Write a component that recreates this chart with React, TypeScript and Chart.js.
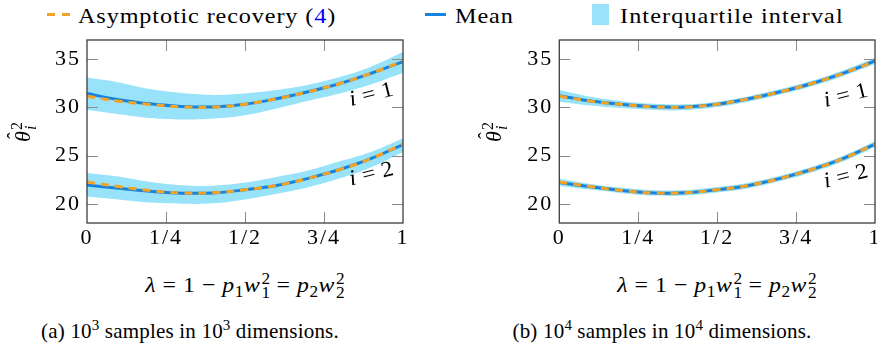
import React, { useEffect, useRef } from "react";
import { Chart, registerables } from "chart.js";

Chart.register(...registerables);

// ---------- data ----------
const LAMBDA = [0, 0.1, 0.2, 0.3, 0.4, 0.5, 0.6, 0.7, 0.8, 0.9, 1];
const X_TICKS = [0, 0.25, 0.5, 0.75, 1];
const X_TICK_LABELS = ["0", "1/4", "1/2", "3/4", "1"];
const Y_TICKS = [20, 25, 30, 35];
const Y_MIN = 18;
const Y_MAX = 37;

// asymptotic recovery (4)
const ASYM_1 = [31.15, 30.65, 30.3, 30.06, 30.03, 30.33, 30.9, 31.62, 32.48, 33.55, 34.8];
const ASYM_2 = [22.26, 21.78, 21.37, 21.12, 21.14, 21.45, 21.9, 22.63, 23.55, 24.7, 26.2];

// panel (a): 10^3 samples in 10^3 dimensions
const A_MEAN_1 = [31.45, 30.8, 30.37, 30.1, 30.05, 30.33, 30.9, 31.62, 32.48, 33.55, 34.76];
const A_Q3_1 = [33.1, 32.6, 31.9, 31.5, 31.3, 31.45, 31.8, 32.35, 33.15, 34.25, 35.75];
const A_Q1_1 = [29.72, 29.3, 28.9, 28.75, 28.85, 29.2, 29.9, 30.7, 31.45, 32.4, 33.6];
const A_MEAN_2 = [21.95, 21.6, 21.3, 21.1, 21.12, 21.45, 21.9, 22.63, 23.55, 24.7, 26.15];
const A_Q3_2 = [23.2, 22.82, 22.25, 21.92, 21.88, 22.2, 22.78, 23.45, 24.4, 25.4, 26.8];
const A_Q1_2 = [20.76, 20.45, 20.12, 20.0, 20.05, 20.45, 21.04, 21.72, 22.65, 23.8, 25.38];

// panel (b): 10^4 samples in 10^4 dimensions
const B_MEAN_1 = [31.22, 30.66, 30.3, 30.07, 30.04, 30.33, 30.9, 31.62, 32.48, 33.56, 34.82];
const B_Q3_1 = [31.8, 31.1, 30.65, 30.38, 30.33, 30.6, 31.17, 31.9, 32.76, 33.85, 35.12];
const B_Q1_1 = [30.6, 30.2, 29.93, 29.74, 29.72, 30.04, 30.62, 31.35, 32.2, 33.27, 34.5];
const B_MEAN_2 = [22.2, 21.76, 21.37, 21.12, 21.14, 21.45, 21.9, 22.63, 23.55, 24.7, 26.2];
const B_Q3_2 = [22.6, 22.05, 21.65, 21.4, 21.42, 21.73, 22.18, 22.9, 23.83, 24.98, 26.48];
const B_Q1_2 = [21.85, 21.47, 21.1, 20.85, 20.86, 21.17, 21.62, 22.36, 23.27, 24.42, 25.9];

// curve labels ("i = 1", "i = 2") in data coordinates
const A_CURVE_LABELS = [
  { idx: "1", x: 0.9, y: 31.3 },
  { idx: "2", x: 0.9, y: 23.05 },
];
const B_CURVE_LABELS = [
  { idx: "1", x: 0.908, y: 31.2 },
  { idx: "2", x: 0.908, y: 22.8 },
];

// ---------- styles ----------
const ORANGE = "#f5a324";
const BLUE = "#1583e0";
const BAND = "#98e3f9";
const FRAME = "#3c3c3c";
const TICK = "#8c8c8c";
const SERIF = '"Liberation Serif"';
const FS = 22;

const pts = (ys: number[]) => LAMBDA.map((x, i) => ({ x, y: ys[i] }));

const framePlugin = {
  id: "frameTicks",
  beforeDraw(chart: any) {
    chart.ctx.letterSpacing = "2px";
  },
  afterDatasetsDraw(chart: any, _args: any, opts: any) {
    const { ctx, chartArea, scales } = chart;
    const { left, right, top, bottom } = chartArea;
    const x = scales.x;
    const y = scales.y;
    const L = 11;
    ctx.save();
    ctx.letterSpacing = "0px";
    ctx.strokeStyle = TICK;
    ctx.lineWidth = 1;
    ctx.beginPath();
    for (const v of X_TICKS) {
      if (v <= 0 || v >= 1) continue;
      const px = Math.round(x.getPixelForValue(v)) + 0.5;
      ctx.moveTo(px, bottom);
      ctx.lineTo(px, bottom - L);
      ctx.moveTo(px, top);
      ctx.lineTo(px, top + L);
    }
    for (const v of Y_TICKS) {
      const py = Math.round(y.getPixelForValue(v)) + 0.5;
      ctx.moveTo(left, py);
      ctx.lineTo(left + L, py);
      ctx.moveTo(right, py);
      ctx.lineTo(right - L, py);
    }
    ctx.stroke();
    ctx.strokeStyle = FRAME;
    ctx.lineWidth = 1.3;
    ctx.strokeRect(left, top, right - left, bottom - top);

    // curve labels
    const labels = (opts && opts.labels) || [];
    for (const lb of labels) {
      const px = x.getPixelForValue(lb.x);
      const py = y.getPixelForValue(lb.y);
      ctx.save();
      ctx.translate(px, py);
      ctx.rotate((-14 * Math.PI) / 180);
      ctx.scale(1.08, 1);
      ctx.fillStyle = "#000";
      ctx.textBaseline = "middle";
      const it = `italic ${FS}px ${SERIF}`;
      const rm = `${FS}px ${SERIF}`;
      ctx.font = it;
      const wi = ctx.measureText("i").width;
      ctx.font = rm;
      const we = ctx.measureText("=").width;
      const wn = ctx.measureText(lb.idx).width;
      const gap = 6;
      const total = wi + gap + we + gap + wn;
      let cx = -total / 2;
      ctx.font = it;
      ctx.fillText("i", cx, 0);
      cx += wi + gap;
      ctx.font = rm;
      ctx.fillText("=", cx, 0);
      cx += we + gap;
      ctx.fillText(lb.idx, cx, 0);
      ctx.restore();
    }
    ctx.restore();
  },
};

type PanelProps = {
  left: number;
  width: number;
  height: number;
  yAxisWidth: number;
  rightPad: number;
  plotBottom: number;
  mean1: number[];
  q1_1: number[];
  q3_1: number[];
  mean2: number[];
  q1_2: number[];
  q3_2: number[];
  curveLabels: { idx: string; x: number; y: number }[];
};

function Panel(p: PanelProps) {
  const ref = useRef<HTMLCanvasElement | null>(null);
  useEffect(() => {
    if (!ref.current) return;
    const line = (data: number[], color: string, dash: number[] | undefined, order: number) => ({
      data: pts(data),
      borderColor: color,
      borderWidth: 3,
      borderDash: dash,
      pointRadius: 0,
      tension: 0.4,
      fill: false,
      order,
    });
    const bandTop = (data: number[]) => ({
      data: pts(data),
      borderWidth: 0,
      borderColor: "rgba(0,0,0,0)",
      pointRadius: 0,
      tension: 0.4,
      fill: false,
      order: 3,
    });
    const bandBottom = (data: number[], target: number) => ({
      data: pts(data),
      borderWidth: 0,
      borderColor: "rgba(0,0,0,0)",
      backgroundColor: BAND,
      pointRadius: 0,
      tension: 0.4,
      fill: { target },
      order: 3,
    });
    const chart = new Chart(ref.current, {
      type: "line",
      data: {
        datasets: [
          line(ASYM_1, ORANGE, [8, 6], 0),
          line(ASYM_2, ORANGE, [8, 6], 0),
          line(p.mean1, BLUE, undefined, 1),
          line(p.mean2, BLUE, undefined, 1),
          bandTop(p.q3_1),
          bandBottom(p.q1_1, 4),
          bandTop(p.q3_2),
          bandBottom(p.q1_2, 6),
        ] as any,
      },
      options: {
        animation: false,
        responsive: false,
        maintainAspectRatio: false,
        events: [],
        layout: { padding: { left: 0, top: 40, right: p.rightPad, bottom: 0 } },
        plugins: {
          legend: { display: false },
          tooltip: { enabled: false },
          frameTicks: { labels: p.curveLabels },
        } as any,
        scales: {
          x: {
            type: "linear",
            min: 0,
            max: 1,
            grid: { display: false, drawTicks: false, tickLength: 0 },
            border: { display: false },
            afterBuildTicks: (s: any) => {
              s.ticks = X_TICKS.map((v) => ({ value: v }));
            },
            afterFit: (s: any) => {
              s.height = p.height - p.plotBottom;
              s.paddingLeft = 0;
              s.paddingRight = 0;
            },
            ticks: {
              autoSkip: false,
              maxRotation: 0,
              padding: 2,
              color: "#000",
              font: { family: SERIF, size: FS },
              callback: (v: any) => {
                const i = X_TICKS.indexOf(Number(v));
                return i >= 0 ? X_TICK_LABELS[i] : "";
              },
            },
          },
          y: {
            type: "linear",
            min: Y_MIN,
            max: Y_MAX,
            grid: { display: false, drawTicks: false, tickLength: 0 },
            border: { display: false },
            afterBuildTicks: (s: any) => {
              s.ticks = Y_TICKS.map((v) => ({ value: v }));
            },
            afterFit: (s: any) => {
              s.width = p.yAxisWidth;
              s.paddingTop = 0;
              s.paddingBottom = 0;
            },
            ticks: {
              padding: 6,
              color: "#000",
              font: { family: SERIF, size: FS },
              callback: (v: any) => String(v),
            },
          },
        },
      } as any,
      plugins: [framePlugin],
    });
    return () => chart.destroy();
  }, []);
  return (
    <canvas
      ref={ref}
      width={p.width}
      height={p.height}
      style={{ position: "absolute", left: p.left, top: 0, width: p.width, height: p.height }}
    />
  );
}

// ---------- math text helpers ----------
const Sub = ({ children }: { children: any }) => (
  <span style={{ fontSize: 16, verticalAlign: -5 }}>{children}</span>
);
const SupSub = ({ sup, sub, subItalic }: { sup: string; sub: string; subItalic?: boolean }) => (
  <span
    style={{
      display: "inline-flex",
      flexDirection: "column",
      fontSize: 16,
      lineHeight: "14px",
      verticalAlign: 8,
      marginLeft: 1,
      letterSpacing: 0,
    }}
  >
    <span>{sup}</span>
    <span style={{ fontStyle: subItalic ? "italic" : "normal" }}>{sub}</span>
  </span>
);
const Op = ({ children }: { children: any }) => (
  <span style={{ margin: "0 6px" }}>{children}</span>
);

const textBase: React.CSSProperties = {
  position: "absolute",
  fontFamily: SERIF,
  fontSize: FS,
  lineHeight: `${FS}px`,
  whiteSpace: "nowrap",
  color: "#000",
  letterSpacing: "0.8px",
  transform: "scaleX(1.1)",
  transformOrigin: "0 50%",
};

const centered = (cx: number, cy: number, extra?: React.CSSProperties): React.CSSProperties => ({
  ...textBase,
  left: cx,
  top: cy,
  transform: "translate(-50%, -50%) scaleX(1.08)",
  transformOrigin: "50% 50%",
  ...extra,
});

const XTitle = ({ cx, cy }: { cx: number; cy: number }) => (
  <div style={centered(cx, cy, { letterSpacing: "0.5px" })}>
    <i>λ</i>
    <Op>=</Op>1<Op>−</Op>
    <i>p</i>
    <Sub>1</Sub>
    <i>w</i>
    <SupSub sup="2" sub="1" />
    <Op>=</Op>
    <i>p</i>
    <Sub>2</Sub>
    <i>w</i>
    <SupSub sup="2" sub="2" />
  </div>
);

const YTitle = ({ cx, cy }: { cx: number; cy: number }) => (
  <div style={centered(cx, cy, { transform: "translate(-50%, -50%) rotate(-90deg)", letterSpacing: 0 })}>
    <span style={{ position: "relative", display: "inline-block" }}>
      <i>θ</i>
      <span style={{ position: "absolute", left: 3, top: -8, fontSize: 20 }}>ˆ</span>
    </span>
    <SupSub sup="2" sub="i" subItalic />
  </div>
);

const supStyle: React.CSSProperties = { fontSize: 15, verticalAlign: 8, lineHeight: 0, letterSpacing: 0 };
const captionStyle: React.CSSProperties = {
  fontSize: 21,
  letterSpacing: "0.2px",
  transform: "translate(-50%, -50%)",
};

export default function App() {
  useEffect(() => {
    document.body.style.margin = "0";
  }, []);
  return (
    <div style={{ position: "absolute", left: 0, top: 0, width: 877, height: 348, background: "#fff", overflow: "hidden" }}>
      {/* legend */}
      <div style={{ position: "absolute", left: 47, top: 12.5, width: 8, height: 3, background: ORANGE }} />
      <div style={{ position: "absolute", left: 62, top: 12.5, width: 8, height: 3, background: ORANGE }} />
      <div style={{ ...textBase, left: 78, top: 4.5 }}>
        Asymptotic recovery (<span style={{ color: "#0000ff" }}>4</span>)
      </div>
      <div style={{ position: "absolute", left: 425, top: 12.5, width: 21, height: 3, background: BLUE }} />
      <div style={{ ...textBase, left: 455, top: 4.5 }}>Mean</div>
      <div style={{ position: "absolute", left: 592, top: 4, width: 17, height: 21, background: BAND }} />
      <div style={{ ...textBase, left: 620, top: 4.5, letterSpacing: "1px" }}>Interquartile interval</div>

      <Panel
        left={0}
        width={440}
        height={262}
        yAxisWidth={87}
        rightPad={37}
        plotBottom={223}
        mean1={A_MEAN_1}
        q1_1={A_Q1_1}
        q3_1={A_Q3_1}
        mean2={A_MEAN_2}
        q1_2={A_Q1_2}
        q3_2={A_Q3_2}
        curveLabels={A_CURVE_LABELS}
      />
      <Panel
        left={440}
        width={437}
        height={262}
        yAxisWidth={119.3}
        rightPad={2}
        plotBottom={223}
        mean1={B_MEAN_1}
        q1_1={B_Q1_1}
        q3_1={B_Q3_1}
        mean2={B_MEAN_2}
        q1_2={B_Q1_2}
        q3_2={B_Q3_2}
        curveLabels={B_CURVE_LABELS}
      />

      <YTitle cx={24} cy={132} />
      <YTitle cx={495} cy={132} />
      <XTitle cx={245} cy={287} />
      <XTitle cx={717} cy={287} />

      <div style={centered(190, 331, captionStyle)}>
        (a) 10<sup style={supStyle}>3</sup> samples in 10<sup style={supStyle}>3</sup> dimensions.
      </div>
      <div style={centered(662, 331, captionStyle)}>
        (b) 10<sup style={supStyle}>4</sup> samples in 10<sup style={supStyle}>4</sup> dimensions.
      </div>
    </div>
  );
}
